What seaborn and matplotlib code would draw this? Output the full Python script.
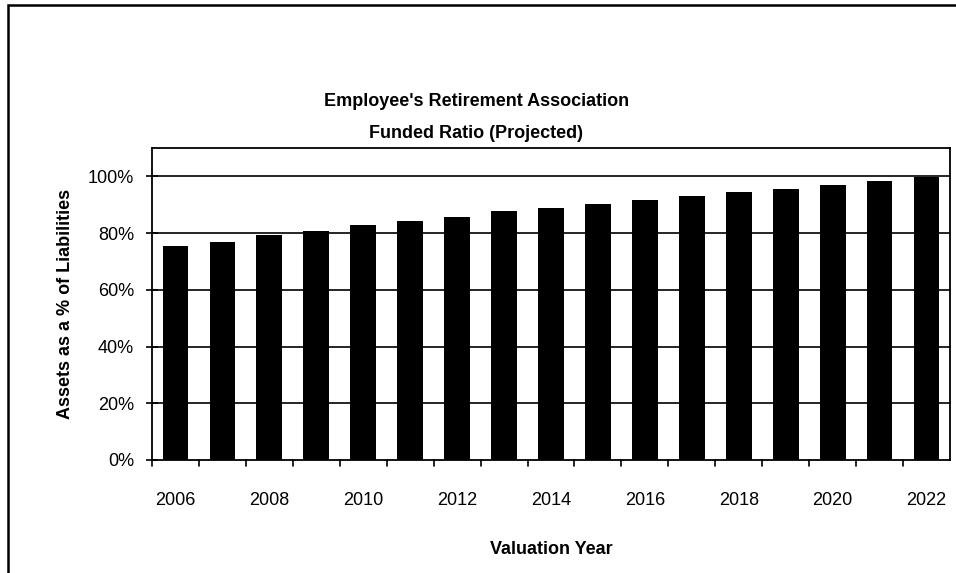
import matplotlib
matplotlib.use("Agg")
import matplotlib.pyplot as plt
import seaborn as sns
import pandas as pd
from matplotlib.patches import Rectangle
from matplotlib import font_manager

years = list(range(2006, 2023))
funded_ratio = [75.6, 77.0, 79.5, 80.7, 82.7, 84.3, 85.5, 87.7, 88.8,
                90.4, 91.7, 93.0, 94.4, 95.7, 97.1, 98.3, 99.8]
y_ticks = [0, 20, 40, 60, 80, 100]
y_tick_labels = ["0%", "20%", "40%", "60%", "80%", "100%"]
title_lines = ["Employee's Retirement Association", "Funded Ratio (Projected)"]

sns.set_style("white")
names = {f.name for f in font_manager.fontManager.ttflist}
fam = "Liberation Sans Narrow" if "Liberation Sans Narrow" in names else "Liberation Sans"
plt.rcParams["font.family"] = [fam, "DejaVu Sans"]
plt.rcParams["text.color"] = "black"
plt.rcParams["axes.labelcolor"] = "black"
plt.rcParams["xtick.color"] = "black"
plt.rcParams["ytick.color"] = "black"

df = pd.DataFrame({"Year": [str(y) for y in years], "Ratio": funded_ratio})

fig = plt.figure(figsize=(9.56, 5.73), dpi=100)
ax = fig.add_axes([152/956, 1-460/573, (950-152)/956, (460-148)/573])

sns.barplot(data=df, x="Year", y="Ratio", color="black", width=0.55,
            saturation=1, linewidth=0, ax=ax, zorder=3)

ax.set_ylim(0, 110)
ax.set_xlim(-0.5, len(years)-0.5)
ax.set_yticks(y_ticks)
ax.set_yticklabels(y_tick_labels, fontsize=13)
for y in y_ticks[1:]:
    ax.axhline(y, color="black", lw=1.2, zorder=1)

ax.set_xticks([i for i in range(len(years))])
ax.set_xticklabels([str(y) if (y - 2006) % 2 == 0 else "" for y in years], fontsize=13)
ax.tick_params(axis="x", length=0, pad=23)
# category boundary ticks
for i in range(len(years)):
    ax.plot([i-0.5, i-0.5], [0, -2.0], color="black", lw=1.2, clip_on=False, zorder=4)
ax.tick_params(axis="y", direction="inout", length=8, width=1.2, pad=9, left=True)

for s in ax.spines.values():
    s.set_color("black")
    s.set_linewidth(1.3)

ax.set_xlabel("Valuation Year", fontsize=13, fontweight="bold", labelpad=23)
ax.set_ylabel("Assets as a % of Liabilities", fontsize=13, fontweight="bold", labelpad=10)

fig.text(0.498, 1-101/573, title_lines[0], ha="center", va="center",
         fontsize=13, fontweight="bold")
fig.text(0.498, 1-133/573, title_lines[1], ha="center", va="center",
         fontsize=13, fontweight="bold")

fig.add_artist(Rectangle((8/956, -0.05), 1.2, 1-5/573+0.05, transform=fig.transFigure,
                         fill=False, edgecolor="black", lw=1.8))

fig.savefig("out.png", dpi=100)
